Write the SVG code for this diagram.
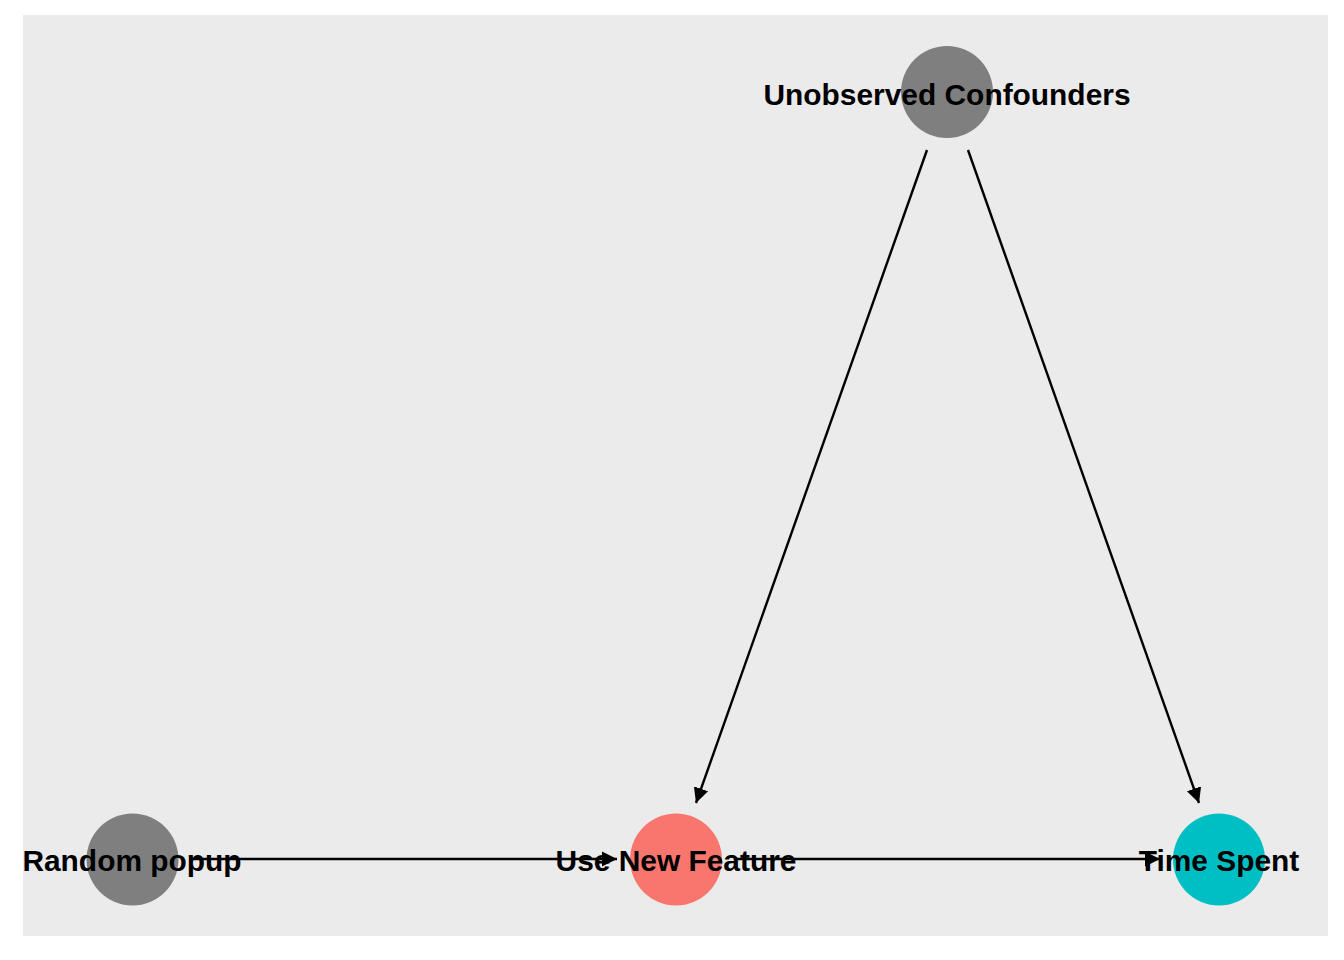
<svg xmlns="http://www.w3.org/2000/svg" width="1344" height="960" viewBox="0 0 1344 960">
<style>
.lbl{font-family:"Liberation Sans",Arial,sans-serif;font-weight:bold;font-size:29.9px;text-anchor:middle;fill:#000}
.edge{stroke:#000;stroke-width:2.4;fill:none;marker-end:url(#ah)}
</style>
<defs>
<marker id="ah" markerUnits="userSpaceOnUse" markerWidth="18" markerHeight="18" viewBox="0 -9 18 18" refX="15" refY="0" orient="auto">
<path d="M0,-7.5 L15,0 L0,7.5 Z" fill="#000"/>
</marker>
</defs>
<rect width="1344" height="960" fill="#FFFFFF"/>
<rect x="23" y="15" width="1305" height="921" fill="#EBEBEB"/>
<g id="connectors">
<line class="edge" x1="191" y1="859" x2="617" y2="859"/>
<line class="edge" x1="735" y1="859" x2="1160" y2="859"/>
<line class="edge" x1="927" y1="150" x2="696" y2="803"/>
<line class="edge" x1="968" y1="150" x2="1199" y2="803"/>
</g>
<g id="node-unobserved">
<circle cx="947" cy="92" r="46" fill="#7F7F7F"/>
<text class="lbl" x="947" y="104.5">Unobserved Confounders</text>
</g>
<g id="node-random">
<circle cx="132.5" cy="859.5" r="46" fill="#7F7F7F"/>
<text class="lbl" x="132" y="871">Random popup</text>
</g>
<g id="node-use">
<circle cx="676" cy="859.5" r="46" fill="#F8766D"/>
<text class="lbl" x="676" y="871">Use New Feature</text>
</g>
<g id="node-time">
<circle cx="1219" cy="859.5" r="46" fill="#00BFC4"/>
<text class="lbl" x="1219" y="871">Time Spent</text>
</g>
</svg>
